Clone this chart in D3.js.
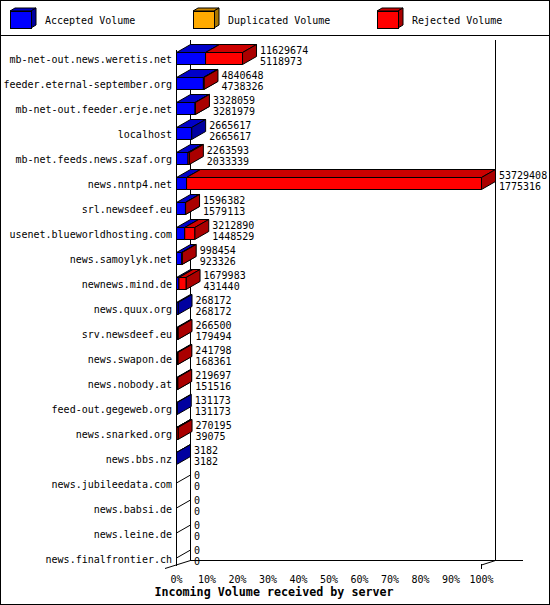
<!DOCTYPE html>
<html>
<head>
<meta charset="utf-8">
<script src="https://cdn.jsdelivr.net/npm/d3@7"></script>
<style>
  body { margin: 0; background: #fff; }
  svg text { font-family: "DejaVu Sans Mono", "Liberation Mono", monospace; font-size: 10px; fill: #000; }
  .title { font-weight: bold; font-size: 11.7px; }
</style>
</head>
<body>
<div id="display"></div>
<script>
// servers, top to bottom
const hosts = [
  "mb-net-out.news.weretis.net", "feeder.eternal-september.org", "mb-net-out.feeder.erje.net",
  "localhost", "mb-net.feeds.news.szaf.org", "news.nntp4.net", "srl.newsdeef.eu",
  "usenet.blueworldhosting.com", "news.samoylyk.net", "newnews.mind.de", "news.quux.org",
  "srv.newsdeef.eu", "news.swapon.de", "news.nobody.at", "feed-out.gegeweb.org",
  "news.snarked.org", "news.bbs.nz", "news.jubileedata.com", "news.babsi.de",
  "news.leine.de", "news.finalfrontier.ch"
];
// first number shown next to each bar (incoming volume)
const incoming = [11629674, 4840648, 3328059, 2665617, 2263593, 53729408, 1596382, 3212890,
  998454, 1679983, 268172, 266500, 241798, 219697, 131173, 270195, 3182, 0, 0, 0, 0];
// second number (accepted volume)
const accepted = [5118973, 4738326, 3281979, 2665617, 2033339, 1775316, 1579113, 1448529,
  923326, 431440, 268172, 179494, 168361, 151516, 131173, 39075, 3182, 0, 0, 0, 0];
const duplicated = [0, 0, 0, 0, 0, 0, 0, 0, 0, 0, 0, 0, 0, 0, 0, 0, 0, 0, 0, 0, 0];
const rejected = incoming.map((d, i) => d - accepted[i] - duplicated[i]);

const legendNames = ["Accepted Volume", "Duplicated Volume", "Rejected Volume"];
const pctTicks = [0, 10, 20, 30, 40, 50, 60, 70, 80, 90, 100];

// front / top / side colours per series
const faces = [
  { front: "#0000ff", top: "#0000c8", side: "#0000a0" },
  { front: "#ffaa00", top: "#cc8800", side: "#aa7700" },
  { front: "#ff0000", top: "#cc0000", side: "#aa0000" }
];

const width = 550, height = 605;
const dx = 14, dy = 8;          // 3d depth of the bars
const x0 = 176, x100 = 481;     // front axis
const backTop = 40, floorY = 560;

const svg = d3.select("#display").append("svg")
  .attr("width", width).attr("height", height);

svg.append("rect").attr("x", 0.5).attr("y", 0.5)
  .attr("width", width - 1).attr("height", height - 1)
  .attr("fill", "#fff").attr("stroke", "#000");
svg.append("line").attr("x1", 0).attr("x2", width).attr("y1", 35.5).attr("y2", 35.5)
  .attr("stroke", "#000");

// legend cubes
const legX = [10, 193, 377];
legendNames.forEach((name, k) => {
  const g = svg.append("g");
  const lx = legX[k], ly = 11, lw = 21, lh = 17, ldx = 5, ldy = 3;
  g.append("polygon")
    .attr("points", `${lx},${ly} ${lx + ldx},${ly - ldy} ${lx + lw + ldx},${ly - ldy} ${lx + lw},${ly}`)
    .attr("fill", faces[k].top).attr("stroke", "#000").attr("stroke-linejoin", "round");
  g.append("polygon")
    .attr("points", `${lx + lw},${ly} ${lx + lw + ldx},${ly - ldy} ${lx + lw + ldx},${ly + lh - ldy} ${lx + lw},${ly + lh}`)
    .attr("fill", faces[k].side).attr("stroke", "#000");
  g.append("rect").attr("x", lx + 0.5).attr("y", ly + 0.5).attr("width", lw).attr("height", lh)
    .attr("fill", faces[k].front).attr("stroke", "#000");
  g.append("text").attr("x", legX[k] + 35).attr("y", 20).attr("dominant-baseline", "central")
    .text(name);
});

const x_scale = d3.scaleLinear().domain([0, d3.max(incoming)]).range([x0, x100]);
const pct_scale = d3.scaleLinear().domain([0, 100]).range([x0, x100]);
const y_scale = d3.scalePoint().domain(hosts).range([59, 559]);

// back wall and floor
const frame = svg.append("g").attr("stroke", "#000").attr("fill", "none");
frame.append("line").attr("x1", x0 + dx + 0.5).attr("x2", x0 + dx + 0.5).attr("y1", backTop).attr("y2", floorY);
frame.append("line").attr("x1", x100 + dx + 0.5).attr("x2", x100 + dx + 0.5).attr("y1", backTop).attr("y2", floorY);
frame.append("line").attr("x1", x0 + dx).attr("x2", 523).attr("y1", floorY + 0.5).attr("y2", floorY + 0.5);
frame.append("line").attr("x1", 165).attr("y1", 568.5).attr("x2", x0 + dx + 0.5).attr("y2", floorY + 0.5);
frame.append("line").attr("x1", x100 + 0.5).attr("y1", 565).attr("x2", x100 + dx + 0.5).attr("y2", floorY + 0.5);
frame.append("line").attr("x1", x100 + 0.5).attr("x2", x100 + 0.5).attr("y1", 564).attr("y2", 569);
frame.append("line").attr("x1", x0 + 0.5).attr("x2", x0 + 0.5).attr("y1", 50).attr("y2", 566);

// bars
const series = [accepted, duplicated, rejected];
hosts.forEach((h, i) => {
  const yc = y_scale(h);
  const top = yc - 6.5, bot = yc + 5.5;
  const g = svg.append("g").attr("stroke", "#000").attr("stroke-linejoin", "round");
  let start = 0;
  if (incoming[i] === 0) {
    g.append("line").attr("x1", x0 + 0.5).attr("y1", yc - 1)
      .attr("x2", x0 + dx + 0.5).attr("y2", yc - 1 - dy);
  }
  series.forEach((vals, k) => {
    const v = vals[i];
    if (v <= 0) return;
    const xa = x_scale(start) + 0.5, xb = x_scale(start + v) + 0.5;
    start += v;
    g.append("polygon")
      .attr("points", `${xa},${top} ${xa + dx},${top - dy} ${xb + dx},${top - dy} ${xb},${top}`)
      .attr("fill", faces[k].top);
    g.append("polygon")
      .attr("points", `${xb},${top} ${xb + dx},${top - dy} ${xb + dx},${bot - dy} ${xb},${bot}`)
      .attr("fill", faces[k].side);
    g.append("polygon")
      .attr("points", `${xa},${top} ${xb},${top} ${xb},${bot} ${xa},${bot}`)
      .attr("fill", faces[k].front);
  });
  const lx = x_scale(incoming[i]) + dx + 4;
  svg.append("text").attr("x", lx).attr("y", yc - 9).attr("dominant-baseline", "central").text(incoming[i]);
  svg.append("text").attr("x", lx).attr("y", yc + 2).attr("dominant-baseline", "central").text(accepted[i]);
});

// server names
const gY = svg.append("g").attr("transform", `translate(${x0 - 4},0)`)
  .call(d3.axisLeft(y_scale).tickSize(0).tickPadding(0));
gY.select(".domain").remove();
gY.selectAll("text").attr("font-size", null).attr("font-family", null)
  .attr("dy", null).attr("dominant-baseline", "central");

// percent ticks
const gX = svg.append("g").attr("transform", "translate(0,566)")
  .call(d3.axisBottom(pct_scale).tickValues(pctTicks).tickSize(0).tickPadding(0)
    .tickFormat(d => d + "%"));
gX.select(".domain").remove();
gX.selectAll("text").attr("font-size", null).attr("font-family", null)
  .attr("dy", null).attr("y", 13).attr("dominant-baseline", "central");

svg.append("text").attr("class", "title").attr("x", 274).attr("y", 592)
  .attr("text-anchor", "middle").attr("dominant-baseline", "central")
  .text("Incoming Volume received by server");
</script>
</body>
</html>
